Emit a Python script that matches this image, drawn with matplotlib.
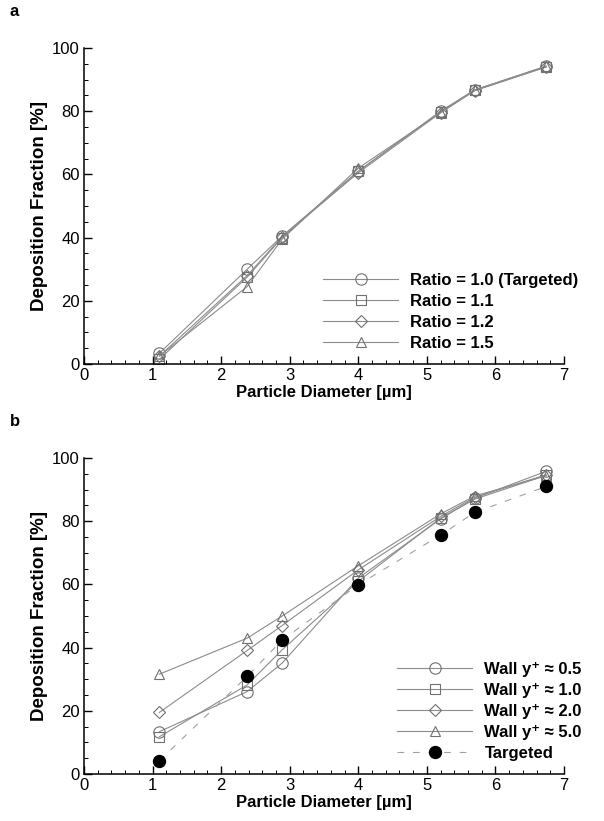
import numpy as np
import matplotlib
matplotlib.use("Agg")
import matplotlib.pyplot as plt
from matplotlib.ticker import MultipleLocator

plt.rcParams['font.family'] = ['Liberation Sans', 'DejaVu Sans']

# particle diameters [um]
diam = [1.1, 2.38, 2.89, 4.0, 5.2, 5.7, 6.74]

# panel a - mesh growth ratio
ratio_labels = ["Ratio = 1.0 (Targeted)", "Ratio = 1.1", "Ratio = 1.2", "Ratio = 1.5"]
ratio_10 = [3.4, 30.0, 40.5, 61.0, 80.0, 86.8, 94.2]
ratio_11 = [1.5, 27.5, 40.0, 61.0, 79.8, 86.6, 94.0]
ratio_12 = [2.5, 28.0, 40.3, 60.5, 79.5, 86.5, 94.0]
ratio_15 = [2.5, 24.5, 39.5, 62.0, 79.5, 86.7, 94.3]

# panel b - wall y+
wall_labels = ["Wall y\u207a \u2248 0.5", "Wall y\u207a \u2248 1.0",
               "Wall y\u207a \u2248 2.0", "Wall y\u207a \u2248 5.0", "Targeted"]
yp_05 = [13.4, 26.1, 35.1, 62.0, 80.7, 87.3, 95.8]
yp_10 = [11.8, 28.2, 39.3, 61.0, 81.0, 87.0, 94.5]
yp_20 = [19.5, 39.1, 47.0, 64.6, 81.5, 87.6, 94.7]
yp_50 = [31.6, 43.0, 50.0, 65.9, 82.3, 88.0, 94.4]
targeted = [4.2, 30.9, 42.4, 59.9, 75.6, 82.8, 91.0]

markers = ['o', 's', 'D', '^']
msizes = [8.2, 6.6, 5.8, 7.4]
lc = '#8c8c8c'
mc = '#707070'

fig = plt.figure(figsize=(6.04, 8.21), dpi=100)
ax1 = fig.add_axes([0.139, 0.5566, 0.7947, 0.3849])
ax2 = fig.add_axes([0.139, 0.0572, 0.7947, 0.3849])


def style(ax):
    ax.set_xlim(0, 7)
    ax.set_ylim(0, 100)
    ax.spines['top'].set_visible(False)
    ax.spines['right'].set_visible(False)
    for s in ['left', 'bottom']:
        ax.spines[s].set_linewidth(1.1)
    ax.xaxis.set_major_locator(MultipleLocator(1))
    ax.xaxis.set_minor_locator(MultipleLocator(0.2))
    ax.yaxis.set_major_locator(MultipleLocator(20))
    ax.yaxis.set_minor_locator(MultipleLocator(5))
    ax.tick_params(which='major', direction='in', length=5.5, width=1.0, labelsize=12, pad=3)
    ax.tick_params(which='minor', direction='in', length=2.8, width=0.7)
    ax.set_xlabel("Particle Diameter [\u00b5m]", fontsize=12, fontweight='bold')
    ax.set_ylabel("Deposition Fraction [%]", fontsize=13.5, fontweight='bold')
    ax.xaxis.set_label_coords(0.5, -0.065)
    ax.yaxis.set_label_coords(-0.075, 0.5)


for ys, m, ms, lab in zip([ratio_10, ratio_11, ratio_12, ratio_15], markers, msizes, ratio_labels):
    ax1.plot(diam, ys, color=lc, lw=0.8, marker=m, ms=ms, mfc='none', mec=mc, mew=0.8, label=lab)
style(ax1)
ax1.legend(loc='upper left', bbox_to_anchor=(323 / 604, 1 - 273 / 821), bbox_transform=fig.transFigure,
           frameon=False, borderpad=0, borderaxespad=0, handlelength=4.5, handletextpad=0.75,
           labelspacing=0.36, prop={'weight': 'bold', 'size': 12})

for ys, m, ms, lab in zip([yp_05, yp_10, yp_20, yp_50], markers, msizes, wall_labels[:4]):
    ax2.plot(diam, ys, color=lc, lw=0.8, marker=m, ms=ms, mfc='none', mec=mc, mew=0.8, label=lab)
ax2.plot(diam, targeted, color='#a0a0a0', lw=0.8, ls=(0, (6, 8)), marker='o', ms=8.6,
         mfc='black', mec='black', label=wall_labels[4])
style(ax2)
ax2.legend(loc='upper left', bbox_to_anchor=(397 / 604, 1 - 662 / 821), bbox_transform=fig.transFigure,
           frameon=False, borderpad=0, borderaxespad=0, handlelength=4.5, handletextpad=0.75,
           labelspacing=0.36, prop={'weight': 'bold', 'size': 12})

fig.text(10 / 604, 1 - 12 / 821, "a", fontsize=12, fontweight='bold', va='center', ha='left')
fig.text(10 / 604, 1 - 421 / 821, "b", fontsize=12, fontweight='bold', va='center', ha='left')

fig.savefig("out.png", dpi=100)
